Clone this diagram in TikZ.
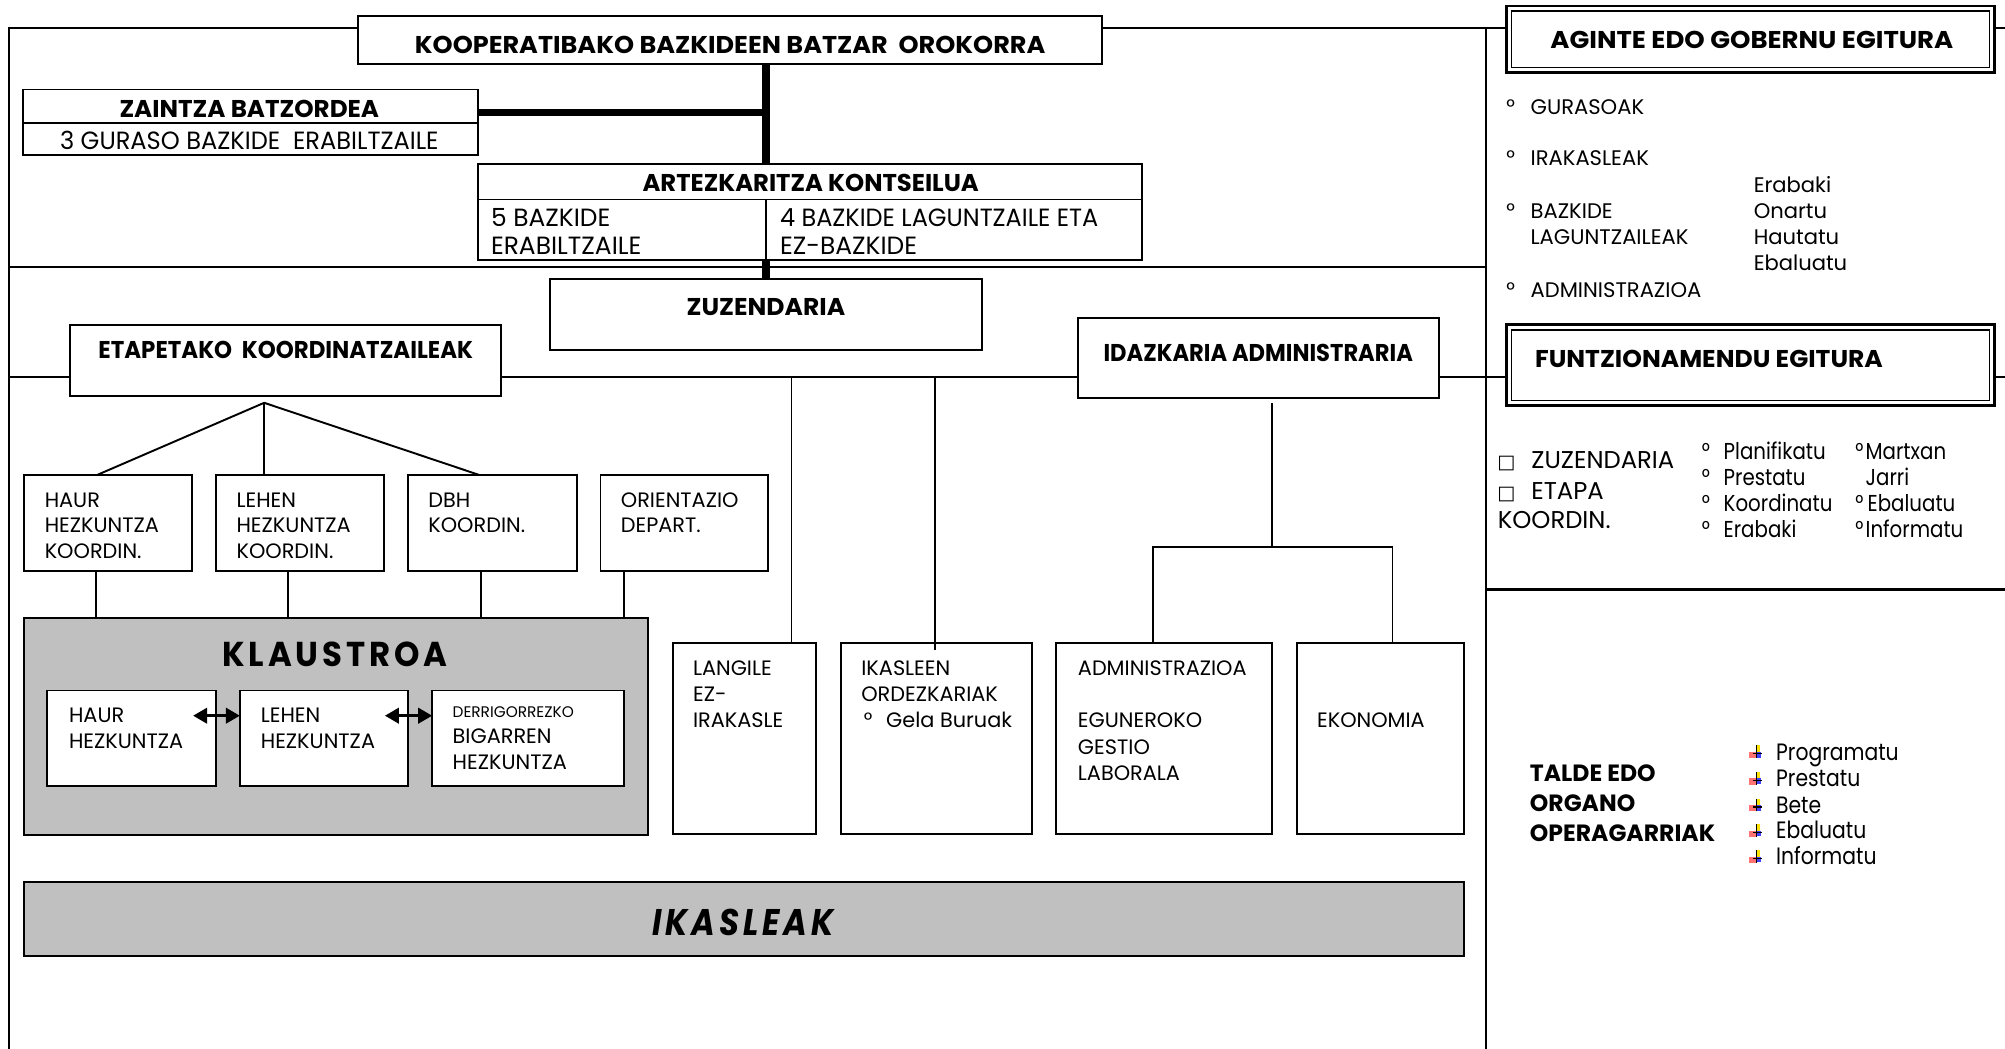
\documentclass[tikz,border=0pt]{standalone}
\usepackage{fontspec}
\usepackage{graphicx}
\setmainfont{Poppins}
\newfontfamily\popc{Poppins}[FakeStretch=0.86]
\newfontfamily\dejavu{DejaVu Sans}
\usetikzlibrary{arrows.meta}
\definecolor{kgray}{RGB}{192,192,192}
\newcommand\fitw[2]{\resizebox{#1}{\height}{#2}}
\newcommand\bx[6][]{\node[box,#1,minimum width={(#4)-(#2)},minimum height={(#5)-(#3)}] (#6) at ({((#2)+(#4))/2},{((#3)+(#5))/2}) {};}
\tikzset{
  every node/.style={inner sep=0pt, outer sep=0pt},
  box/.style={draw, line width=1.5pt, fill=white},
  dbl/.style={draw, line width=2.2pt},
  inner/.style={line width=1pt},
  frm/.style={line width=1.6pt},
  ln/.style={line width=1.5pt},
  thk/.style={line width=6pt},
  dar/.style={line width=2.4pt, {Triangle[length=11pt,width=12pt]}-{Triangle[length=11pt,width=12pt]}},
  ttl/.style={font=\bfseries\fontsize{19}{22}\selectfont, text height=13.3pt, text depth=0pt},
  reg/.style={font=\fontsize{16.3}{19}\selectfont, text height=11.4pt, text depth=0pt, anchor=west},
  big/.style={font=\fontsize{19.5}{22}\selectfont, text height=13.6pt, text depth=0pt, anchor=west},
  sml/.style={font=\fontsize{12}{14}\selectfont, text height=8.4pt, text depth=0pt, anchor=west},
  lst/.style={font=\fontsize{16.5}{19}\selectfont, text height=11.5pt, text depth=0pt, anchor=west},
  mid/.style={font=\fontsize{19}{22}\selectfont, text height=13.3pt, text depth=0pt, anchor=west},
  low/.style={font=\popc\fontsize{18}{21}\selectfont, text height=12.6pt, text depth=0pt, anchor=west},
  opl/.style={font=\popc\fontsize{18.5}{21}\selectfont, text height=12.9pt, text depth=0pt, anchor=west},
  bld/.style={font=\bfseries\fontsize{18.4}{21}\selectfont, text height=12.9pt, text depth=0pt, anchor=west},
  ico/.pic={
    \fill[red!55] (-5,0) rectangle (0,5);
    \fill[yellow!85!orange] (0,-5) rectangle (3,0);
    \fill[blue!75] (0,0) rectangle (4,4.5);
    \draw[line width=0.9pt] (-2,1.5) -- (5,1.5);
    \draw[line width=0.9pt] (0.8,-5) -- (0.8,5);
  }
}
\begin{document}
\begin{tikzpicture}[x=1pt,y=-1pt]
\useasboundingbox (0,0) rectangle (1568,820);

% ---------- boxes ----------
\bx{280}{12.5}{862}{50}{koop}
\bx{18}{70}{374}{121}{zaintza}
\bx{374}{128.5}{893}{203}{artez}
\bx{430}{218}{768}{274}{zuz}
\bx{55}{254}{392}{310}{etap}
\bx{843}{248.5}{1125}{311.5}{idaz}
\bx[dbl]{1178}{4.7}{1560}{57}{agin}
\bx[dbl]{1178}{254}{1560}{317}{funtz}
\draw[inner] ([shift={(4,4)}]agin.north west) rectangle ([shift={(-4,-4)}]agin.south east);
\draw[inner] ([shift={(4,4)}]funtz.north west) rectangle ([shift={(-4,-4)}]funtz.south east);

\bx{18.8}{371.5}{150.4}{446.6}{hk}
\bx{168.8}{371.5}{300.4}{446.6}{lk}
\bx{319}{371.5}{450.9}{446.6}{dk}
\bx{469.6}{371.5}{600.6}{446.6}{ok}

\bx[fill=kgray]{18.8}{483.6}{506.7}{653}{kl}
\bx{37}{540}{168.8}{615}{ih}
\bx{187.6}{540}{319}{615}{il}
\bx{338}{540}{488}{615}{id}

\bx{526}{503}{638}{652}{lg}
\bx{657.6}{503}{807}{652}{ik}
\bx{826}{503}{995}{652}{ad}
\bx{1014}{503}{1145}{652}{ek}

\bx[fill=kgray]{18.7}{690}{1145}{747.4}{ikb}

% ---------- frame lines ----------
\coordinate (ftl) at (7,22);
\coordinate (fbl) at (7,820);
\coordinate (vtop) at (1162,22);
\coordinate (vbot) at (1162,820);
\coordinate (h1l) at (7,208.5);
\coordinate (h2l) at (7,295);
\coordinate (h2r) at (1568,295);
\coordinate (h3) at (1162,461);
\coordinate (h3r) at (1568,461);
\coordinate (ftr) at (1568,22);
\draw[frm] (fbl) -- (ftl) -- (ftl -| koop.west);
\draw[frm] (koop.east |- ftl) -- (agin.west |- ftl);
\draw[frm] (agin.east |- ftl) -- (ftr);
\draw[frm] (vtop) -- (vbot);
\draw[frm] (h1l) -- (h1l -| vtop);
\draw[frm] (h2l) -- (etap.west |- h2l);
\draw[frm] (etap.east |- h2l) -- (idaz.west |- h2l);
\draw[frm] (idaz.east |- h2l) -- (funtz.west |- h2l);
\draw[frm] (funtz.east |- h2l) -- (h2r);
\draw[frm] (h3) -- (h3r);

% ---------- dividers ----------
\coordinate (spine) at (599,0);
\draw[ln] (zaintza.west |- 0,96.5) -- (zaintza.east |- 0,96.5);
\draw[ln] (artez.west |- 0,156) -- (artez.east |- 0,156);
\draw[ln] (spine |- 0,156) -- (artez.south -| spine);

% ---------- thick connectors ----------
\draw[thk] (koop.south -| spine) -- (artez.north -| spine);
\draw[thk] (zaintza.east |- 0,88) -- (spine |- 0,88);
\draw[thk] (artez.south -| spine) -- (zuz.north -| spine);

% ---------- fan ----------
\coordinate (apex) at (206.6,315);
\draw[ln] (hk.north -| 75.8,0) -- (apex) -- (dk.north -| 375,0);
\draw[ln] (apex) -- (lk.north -| apex);
\draw[ln] (hk.south -| 75,0) -- (kl.north -| 75,0);
\draw[ln] (lk.south -| 225.4,0) -- (kl.north -| 225.4,0);
\draw[ln] (dk.south -| 375.9,0) -- (kl.north -| 375.9,0);
\draw[ln] (ok.south -| 488,0) -- (kl.north -| 488,0);

% ---------- arrows ----------
\coordinate (a1) at (151,559.7);
\coordinate (a2) at (301,559.7);
\draw[dar] (a1) -- (il.west |- a1);
\draw[dar] (a2) -- (id.west |- a2);

% ---------- right-hand connectors ----------
\coordinate (j1) at (619,295);
\coordinate (j2) at (731,295);
\draw[ln] (j1) -- (lg.north -| j1);
\draw[ln] (j2) -- ([yshift=-5pt]ik.north -| j2);
\coordinate (it) at (995,315);
\coordinate (ib) at (995,427.6);
\coordinate (bl) at (901.5,427.6);
\coordinate (br) at (1089,427.6);
\draw[ln] (it) -- (ib);
\draw[ln] (ad.north -| bl) -- (bl) -- (br) -- (ek.north -| br);

% ---------- titles ----------
\node[ttl] (koopt) at (571,35) {\fitw{493pt}{KOOPERATIBAKO BAZKIDEEN BATZAR\ \ OROKORRA}};
\node[ttl] (zaint) at (195,85) {\fitw{203pt}{ZAINTZA BATZORDEA}};
\node[big,anchor=center] (gur3) at (195,110) {\fitw{296pt}{3 GURASO BAZKIDE\ \ ERABILTZAILE}};
\node[ttl] (artt) at (634,143) {\fitw{263pt}{ARTEZKARITZA KONTSEILUA}};
\node[ttl] (zuzt) at (599,240) {\fitw{124pt}{ZUZENDARIA}};
\node[ttl] (etapt) at (223.5,274) {\fitw{293pt}{ETAPETAKO\ \ KOORDINATZAILEAK}};
\node[ttl] (idazt) at (984,276) {\fitw{242pt}{IDAZKARIA ADMINISTRARIA}};
\node[ttl] (agint) at (1370,31) {\fitw{315pt}{AGINTE EDO GOBERNU EGITURA}};
\node[ttl,anchor=west] (funtzt) at (1200.5,281) {\fitw{272pt}{FUNTZIONAMENDU EGITURA}};

% ---------- artez texts ----------
\node[big] (ar1) at (384,170) {5 BAZKIDE};
\node[big] (ar2) at (384,192.5) {ERABILTZAILE};
\node[big] (ar3) at (610,170) {\fitw{249pt}{4 BAZKIDE LAGUNTZAILE ETA}};
\node[big] (ar4) at (610,192.5) {EZ-BAZKIDE};

% ---------- coordinator boxes ----------
\node[reg] (hk1) at (35,391) {HAUR};
\node[reg] (hk2) at (35,410.8) {HEZKUNTZA};
\node[reg] (hk3) at (35,431.4) {KOORDIN.};
\node[reg] (lk1) at (185,391) {LEHEN};
\node[reg] (lk2) at (185,410.8) {HEZKUNTZA};
\node[reg] (lk3) at (185,431.4) {KOORDIN.};
\node[reg] (dk1) at (335,391) {DBH};
\node[reg] (dk2) at (335,410.8) {KOORDIN.};
\node[reg] (ok1) at (485.6,391) {ORIENTAZIO};
\node[reg] (ok2) at (485.6,410.8) {DEPART.};

% ---------- klaustroa ----------
\node[font=\bfseries\fontsize{27}{30}\selectfont\addfontfeature{LetterSpace=12}, text height=19pt, text depth=0pt] (klt) at (262,512) {\fitw{176pt}{KLAUSTROA}};
\node[reg] (ih1) at (54,559.7) {HAUR};
\node[reg] (ih2) at (54,580) {HEZKUNTZA};
\node[reg] (il1) at (204,559.7) {LEHEN};
\node[reg] (il2) at (204,580) {HEZKUNTZA};
\node[sml] (id1) at (354,557) {DERRIGORREZKO};
\node[reg] (id2) at (354,575.5) {BIGARREN};
\node[reg] (id3) at (354,595.7) {HEZKUNTZA};

% ---------- lower boxes ----------
\node[reg] (lg1) at (542,522.6) {LANGILE};
\node[reg] (lg2) at (542,543) {EZ-};
\node[reg] (lg3) at (542,563) {IRAKASLE};
\node[reg] (ik1) at (673.6,522.6) {IKASLEEN};
\node[reg] (ik2) at (673.6,543) {ORDEZKARIAK};
\node[reg] (ik3) at (675.6,563) {°};
\node[reg] (ik4) at (693,563) {Gela Buruak};
\node[reg] (ad1) at (843,522.6) {ADMINISTRAZIOA};
\node[reg] (ad2) at (843,563) {EGUNEROKO};
\node[reg] (ad3) at (843,584) {GESTIO};
\node[reg] (ad4) at (843,605) {LABORALA};
\node[reg] (ek1) at (1030,563) {EKONOMIA};

% ---------- ikasleak ----------
\node[font=\bfseries\itshape\fontsize{29}{32}\selectfont\addfontfeature{LetterSpace=12}, text height=20.5pt, text depth=0pt] (ikt) at (581,721) {\fitw{142pt}{IKASLEAK}};

% ---------- right panel: agintea ----------
\node[lst] (rb1) at (1178,83.4) {°};
\node[lst] (rt1) at (1197,83.4) {GURASOAK};
\node[lst] (rb2) at (1178,124) {°};
\node[lst] (rt2) at (1197,124) {IRAKASLEAK};
\node[lst] (rb3) at (1178,164.8) {°};
\node[lst] (rt3) at (1197,164.8) {BAZKIDE};
\node[lst] (rt4) at (1197,185.6) {LAGUNTZAILEAK};
\node[lst] (rb5) at (1178,226.8) {°};
\node[lst] (rt5) at (1197,226.8) {ADMINISTRAZIOA};
\node[lst] (ra1) at (1371.5,144.7) {Erabaki};
\node[lst] (ra2) at (1371.5,164.8) {Onartu};
\node[lst] (ra3) at (1371.5,185.6) {Hautatu};
\node[lst] (ra4) at (1371.5,206) {Ebaluatu};

% ---------- right panel: funtzionamendu ----------
\node[mid] (sq1) at (1171,360) {{\dejavu\fontsize{15}{18}\selectfont □}};
\node[mid] (fz1) at (1197.6,360) {ZUZENDARIA};
\node[mid] (sq2) at (1171,384) {{\dejavu\fontsize{15}{18}\selectfont □}};
\node[mid] (fz2) at (1197.6,384) {ETAPA};
\node[mid] (fz3) at (1171.3,407) {KOORDIN.};
\node[low] (pb1) at (1331,353) {°};
\node[low] (pt1) at (1348,353) {Planifikatu};
\node[low] (pb2) at (1331,373) {°};
\node[low] (pt2) at (1348,373) {Prestatu};
\node[low] (pb3) at (1331,394) {°};
\node[low] (pt3) at (1348,394) {Koordinatu};
\node[low] (pb4) at (1331,414) {°};
\node[low] (pt4) at (1348,414) {Erabaki};
\node[low] (qb1) at (1451,353) {°};
\node[low] (qt1) at (1459,353) {Martxan};
\node[low] (qt2) at (1459,373) {Jarri};
\node[low] (qb3) at (1451,394) {°};
\node[low] (qt3) at (1460.6,394) {Ebaluatu};
\node[low] (qb4) at (1451,414) {°};
\node[low] (qt4) at (1459,414) {Informatu};

% ---------- right panel: talde ----------
\node[bld] (tl1) at (1196.5,605) {TALDE EDO};
\node[bld] (tl2) at (1196.5,628) {ORGANO};
\node[bld] (tl3) at (1196.5,651.6) {OPERAGARRIAK};
\foreach \yy/\tt [count=\i] in {588/Programatu,608.7/Prestatu,629.6/Bete,649.6/Ebaluatu,670/Informatu}{
  \pic at (1373,\yy) {ico};
  \node[opl] (op\i) at (1389,\yy) {\tt};
}
\end{tikzpicture}
\end{document}
